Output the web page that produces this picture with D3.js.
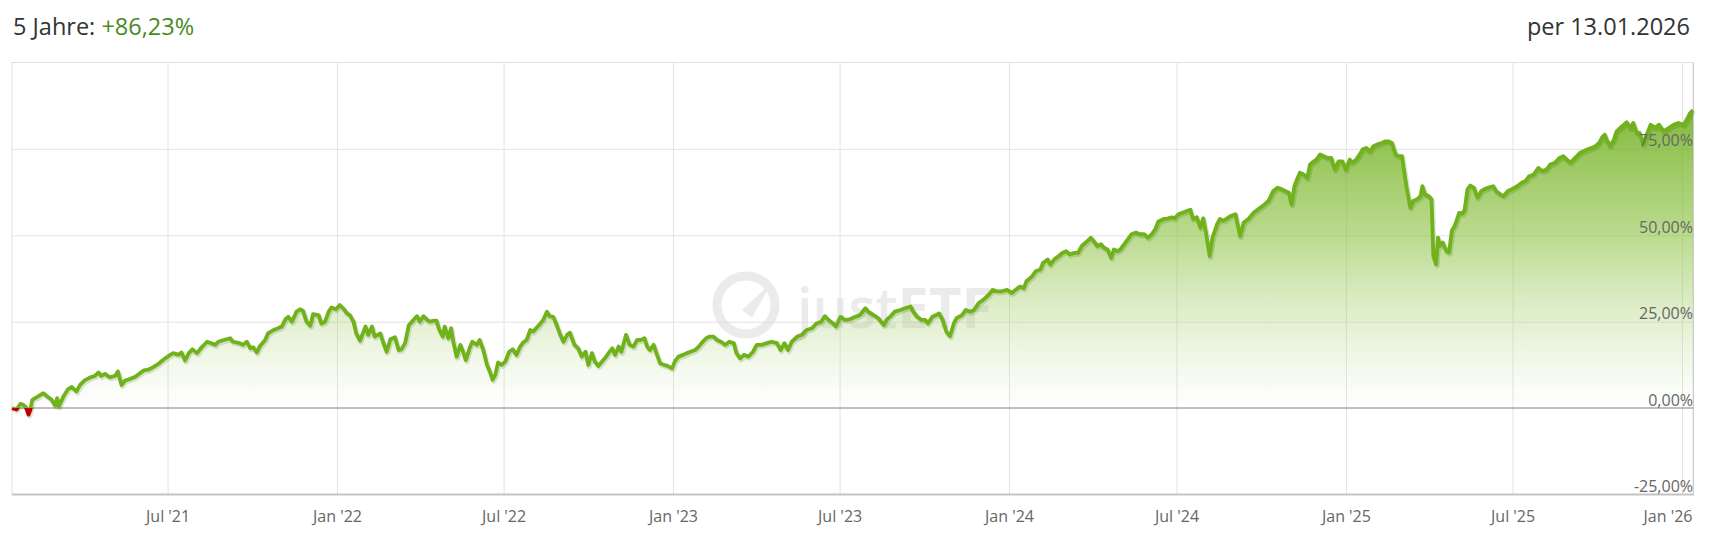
<!DOCTYPE html>
<html>
<head>
<meta charset="utf-8">
<script src="https://cdn.jsdelivr.net/npm/d3@7"></script>
<style>
  html, body { margin: 0; padding: 0; background: #fff; }
  svg { display: block; font-family: "Open Sans", "Noto Sans", sans-serif; }
</style>
</head>
<body>
<svg id="chart" width="1713" height="536"></svg>
<script>
// ---------------- DATA ----------------
const startDateStr = "2021-01-13";
const endDateStr = "2026-01-13";
const titleLabel = "5 Jahre: ";
const titleValue = "+86,23%";
const asOfLabel = "per 13.01.2026";

// calendar days since startDateStr
const dayOffsets = [
  0,5,9,12,15,18,20,22,27,34,39,43,47,49,51,56,61,65,70,74,79,85,90,94,97,101,106,112,115,119,
  123,128,134,139,143,148,153,159,164,170,175,181,184,188,192,196,201,206,212,215,221,224,230,237,240,246,251,255,259,262,
  266,269,275,278,284,289,293,297,300,304,309,313,316,320,324,327,333,336,340,344,347,352,356,360,364,367,371,374,378,384,
  387,391,394,400,403,407,411,416,420,423,427,431,436,440,443,447,452,454,458,461,464,468,470,474,477,479,483,487,490,493,
  497,500,505,508,512,516,519,522,525,528,532,536,540,544,548,552,555,559,563,566,571,574,577,581,584,588,591,595,599,603,
  606,611,615,619,623,626,630,633,637,641,644,648,652,655,659,662,667,671,675,679,683,687,690,693,697,700,704,708,712,717,
  720,724,729,733,737,742,746,749,754,758,762,766,770,775,779,784,787,791,795,800,805,809,814,820,825,831,835,839,843,847,
  853,858,863,869,874,879,883,887,892,895,900,905,910,916,921,927,930,936,941,947,950,954,959,965,970,976,979,983,988,992,
  995,1000,1004,1007,1011,1015,1019,1023,1026,1032,1036,1041,1045,1050,1055,1061,1065,1070,1075,1081,1086,1090,1095,1099,1102,1108,1112,1117,1120,1125,
  1128,1132,1137,1141,1145,1149,1154,1158,1162,1168,1172,1175,1179,1183,1186,1190,1194,1197,1201,1204,1208,1212,1216,1221,1225,1230,1234,1238,1242,1245,
  1251,1256,1260,1263,1267,1272,1277,1280,1283,1287,1291,1294,1297,1301,1304,1309,1312,1316,1320,1324,1329,1331,1334,1338,1343,1349,1354,1359,1365,1370,
  1375,1379,1383,1387,1390,1393,1396,1399,1403,1407,1410,1414,1417,1421,1425,1429,1433,1437,1441,1445,1449,1453,1456,1460,1464,1467,1471,1475,1479,1483,
  1488,1492,1495,1499,1503,1506,1510,1512,1515,1519,1522,1526,1530,1532,1535,1539,1542,1544,1547,1549,1551,1554,1558,1561,1564,1567,1569,1572,1576,1578,
  1581,1584,1588,1592,1596,1599,1604,1609,1612,1617,1620,1625,1629,1635,1640,1644,1648,1653,1658,1662,1667,1671,1676,1681,1685,1689,1693,1698,1703,1707,
  1711,1716,1720,1724,1727,1730,1733,1736,1740,1743,1747,1751,1754,1758,1761,1765,1768,1772,1775,1780,1785,1789,1794,1800,1805,1810,1816,1820,1823,1826
];
// performance in %
const returns = [
  0,-0.4,1.2,1.0,0.3,-1.9,-0.5,2.4,3.2,4.3,3.2,2.4,0.7,2.9,0.5,3.4,5.5,6.1,4.8,6.7,8,8.9,9.3,10.3,9.3,9.9,8.9,9.3,10.6,6.7,
  8,8.4,9.1,10.1,10.9,11.1,11.8,12.8,13.9,15.1,15.9,15.4,16.1,13.8,15.9,17,15.9,17.6,19.2,18.9,18.3,19.2,19.7,20.2,19.2,18.9,18.3,19.2,17.3,17.6,
  16.1,17.8,19.7,21.6,22.6,23.1,23.6,25.7,26.4,25,27.9,28.6,28.2,25,23.8,27.2,26.9,24.5,25,27.9,29.1,28.6,29.8,28.8,27.4,26.9,25,21.6,19.5,23.6,
  21.2,23.6,20.7,21.6,19.2,16.3,19.9,20.5,16.8,17,18.8,24,25.5,26.6,25,26.6,25.3,25,25.3,25.3,22.8,20.7,23.6,20.2,23.1,19.7,14.9,18.3,16.3,13.9,
  17.3,19.2,18.3,19.7,16.8,12.5,10.6,8.2,9.6,13.2,12.5,13.5,16.3,17,15.4,17.8,18.9,19.7,22.6,22.1,23.6,24.5,25.5,27.9,26.6,26.4,24.5,21.6,19.2,21.2,
  21.8,18.3,17.3,14.9,16.3,12.5,15.9,13.5,12.2,13.5,14.4,15.9,17.3,15.4,17.8,16.3,21.2,18.3,17.8,19.7,19.7,20.2,17.8,16.8,18.3,15.9,13,12.5,12.2,11.5,
  13.5,14.9,15.4,15.9,16.3,16.8,17.8,18.8,20.2,20.7,20.7,19.7,19.2,18.3,19.2,18.8,15.9,14.4,15.4,14.9,16.3,18.3,18.3,18.8,19.2,18.8,16.8,18.8,16.8,19.2,
  20.7,21.2,22.6,23.1,24.5,25,26.6,25.5,24.5,23.6,26.4,25.5,25.7,26.4,26.9,28.9,27.9,26.9,26,24,25.5,26.5,27.9,28.4,28.9,29.4,27.9,26.5,25.5,25.5,
  24.5,26.5,26.9,27.4,25.5,22.1,20.8,24.5,26,26.9,28.4,27.9,28.4,30.4,31.3,32.8,34.2,33.8,33.8,34.2,33.3,34.2,35.2,34.7,36.7,38.1,39.6,40.1,42,43,
  41.5,43,44,44.9,45.4,44.5,44.9,44.9,46.9,48.3,49.3,48.3,46.9,47.4,46.4,45.9,43.5,45.9,45.4,45.9,47.4,48.8,50.3,50.8,50.3,50.3,49.3,50.3,51.8,53.9,
  54.7,54.9,55.2,54.9,56.1,56.6,57.1,57.4,54.7,55.2,52.2,54.9,50.8,44,49.3,53.2,54.7,54.2,54.9,55.6,56.1,53.7,49.8,53.7,54.7,56.6,57.6,58.6,60,62.8,
  63.8,63.3,62.8,62.3,58.9,64.2,66.3,68.1,67.6,66.6,70.5,71.4,71.9,73.4,72.9,72.4,72.4,69,71.4,71.4,69,71.9,71,71.9,73.4,74.8,75.3,74.3,75.8,76.3,
  76.7,77.2,77.2,76.7,73.4,72.9,72.9,69,63.8,58,59.9,60.4,61.3,64.2,61.8,61.3,60.4,44,41.6,49.3,46.9,47.9,45.5,45,51.3,52.7,54.1,56.5,56.3,57.5,
  63.3,64.4,63.8,60.9,62.8,63.3,63.8,64.2,62.8,61.8,61.3,62.8,63.3,64.2,65.2,65.7,67.1,67.6,69.5,68.6,69,70.5,71,72.4,72.9,71.9,71,72.4,73.8,74.3,
  74.8,75.3,75.8,76.7,78.2,79.1,77.2,75.8,77.7,80.1,81.1,82,82.7,81.1,82.5,79.6,79.6,76.3,78.7,82,81.1,82,80.1,81.1,82,82.5,82,83.9,85.4,86.23
];

const xTickDates = ["2021-07-01","2022-01-01","2022-07-01","2023-01-01","2023-07-01","2024-01-01","2024-07-01","2025-01-01","2025-07-01","2026-01-01"];
const xTickLabels = ["Jul '21","Jan '22","Jul '22","Jan '23","Jul '23","Jan '24","Jul '24","Jan '25","Jul '25","Jan '26"];
const yTicks = [-25, 0, 25, 50, 75];
const yTickLabels = ["-25,00%","0,00%","25,00%","50,00%","75,00%"];

// ---------------- CHART ----------------
const parse = d3.utcParse("%Y-%m-%d");
const start = parse(startDateStr), end = parse(endDateStr);
const data = dayOffsets.map((d, i) => ({ date: d3.utcDay.offset(start, d), v: returns[i] }));

const L = 12, R = 1693, T = 62.5, B = 494.5;
const x = d3.scaleUtc().domain([start, end]).range([L, R]);
const y = d3.scaleLinear().domain([-25, 100]).range([B, T]);

const svg = d3.select("#chart");
const defs = svg.append("defs");
const grad = defs.append("linearGradient").attr("id", "areaGrad")
  .attr("gradientUnits", "userSpaceOnUse").attr("x1", 0).attr("x2", 0)
  .attr("y1", T).attr("y2", y(0));
grad.append("stop").attr("offset", 0).attr("stop-color", "#6aab17").attr("stop-opacity", 1);
grad.append("stop").attr("offset", 0.5).attr("stop-color", "#8cc243").attr("stop-opacity", 0.6);
grad.append("stop").attr("offset", 1).attr("stop-color", "#b8da8c").attr("stop-opacity", 0);

defs.append("clipPath").attr("id", "clipAbove").append("rect")
  .attr("x", 0).attr("y", 0).attr("width", 1713).attr("height", y(0));
defs.append("clipPath").attr("id", "clipBelow").append("rect")
  .attr("x", 0).attr("y", y(0)).attr("width", 1713).attr("height", 536 - y(0));

// Titles
const title = svg.append("text").attr("x", 13).attr("y", 35)
  .attr("font-size", 23.5).attr("fill", "#333");
title.append("tspan").text(titleLabel);
title.append("tspan").attr("fill", "#4a8a1f").text(titleValue);
svg.append("text").attr("x", 1690).attr("y", 35).attr("text-anchor", "end")
  .attr("font-size", 23.5).attr("fill", "#333").text(asOfLabel);

// Plot frame
svg.append("rect").attr("x", L).attr("y", T).attr("width", R - L).attr("height", B - T)
  .attr("fill", "none").attr("stroke", "#e0e0e0").attr("stroke-width", 1);

// X axis with vertical grid
const gX = svg.append("g").attr("transform", `translate(0,${B})`)
  .call(d3.axisBottom(x).tickValues(xTickDates.map(parse))
    .tickSize(-(B - T)).tickPadding(16)
    .tickFormat((d, i) => xTickLabels[i]));
gX.select(".domain").remove();
gX.selectAll(".tick line").attr("stroke", "#e3e3e3");
gX.selectAll(".tick text").attr("fill", "#666").attr("font-size", 16)
  .attr("font-family", "'Open Sans', sans-serif");
gX.selectAll(".tick").filter((d, i) => i === xTickDates.length - 1).select("text")
  .attr("text-anchor", "end").attr("x", x(end) - x(parse(xTickDates[xTickDates.length - 1])) - 1);

// Y grid (labels drawn later on top)
const gYgrid = svg.append("g").attr("transform", `translate(${L},0)`)
  .call(d3.axisRight(y).tickValues(yTicks.filter(t => t > 0)).tickSize(R - L).tickFormat(""));
gYgrid.select(".domain").remove();
gYgrid.selectAll(".tick line").attr("stroke", "#e3e3e3");

// Watermark
const wm = svg.append("g").attr("opacity", 0.55);
wm.append("circle").attr("cx", 746).attr("cy", 305).attr("r", 29)
  .attr("fill", "none").attr("stroke", "#dcdcdc").attr("stroke-width", 9);
wm.append("path").attr("d", "M742,310 L772,282 L752,318 Z").attr("fill", "#dcdcdc");
const wt = wm.append("text").attr("x", 797).attr("y", 328).attr("font-size", 56).attr("fill", "#dcdcdc");
wt.append("tspan").attr("font-weight", 600).text("just");
wt.append("tspan").attr("font-weight", "bold").text("ETF");

// Area
const area = d3.area().x(d => x(d.date)).y0(y(0)).y1(d => y(d.v));
svg.append("path").datum(data).attr("d", area).attr("fill", "url(#areaGrad)")
  .attr("clip-path", "url(#clipAbove)");
svg.append("path").datum(data).attr("d", area).attr("fill", "#c01010").attr("opacity", 0.6)
  .attr("clip-path", "url(#clipBelow)");

// Zero line & bottom border
svg.append("line").attr("x1", L).attr("x2", R).attr("y1", y(0)).attr("y2", y(0))
  .attr("stroke", "#a8a8a8").attr("stroke-width", 1.5);
svg.append("line").attr("x1", L).attr("x2", R + 1).attr("y1", B).attr("y2", B)
  .attr("stroke", "#c4c4c4").attr("stroke-width", 2);
svg.append("line").attr("x1", R + 0.5).attr("x2", R + 0.5).attr("y1", T).attr("y2", B)
  .attr("stroke", "#cccccc").attr("stroke-width", 1);

// Line
const line = d3.line().x(d => x(d.date)).y(d => y(d.v));
svg.append("path").datum(data).attr("d", line).attr("fill", "none")
  .attr("stroke", "#2f5a00").attr("stroke-opacity", 0.16).attr("stroke-width", 5)
  .attr("stroke-linejoin", "round").attr("transform", "translate(1,1.5)");
svg.append("path").datum(data).attr("d", line).attr("fill", "none")
  .attr("stroke", "#6fb219").attr("stroke-width", 3.8).attr("stroke-linejoin", "round")
  .attr("clip-path", "url(#clipAbove)");
svg.append("path").datum(data).attr("d", line).attr("fill", "none")
  .attr("stroke", "#c00000").attr("stroke-width", 3.8).attr("stroke-linejoin", "round")
  .attr("clip-path", "url(#clipBelow)");

// Y labels
const gY = svg.append("g").attr("transform", `translate(${L},0)`)
  .call(d3.axisRight(y).tickValues(yTicks).tickSize(0).tickFormat((d, i) => yTickLabels[i]));
gY.select(".domain").remove();
gY.selectAll(".tick text").attr("x", R - L).attr("dy", -3).attr("text-anchor", "end")
  .attr("fill", "#666").attr("font-size", 16).attr("font-family", "'Open Sans', sans-serif");
</script>
</body>
</html>
